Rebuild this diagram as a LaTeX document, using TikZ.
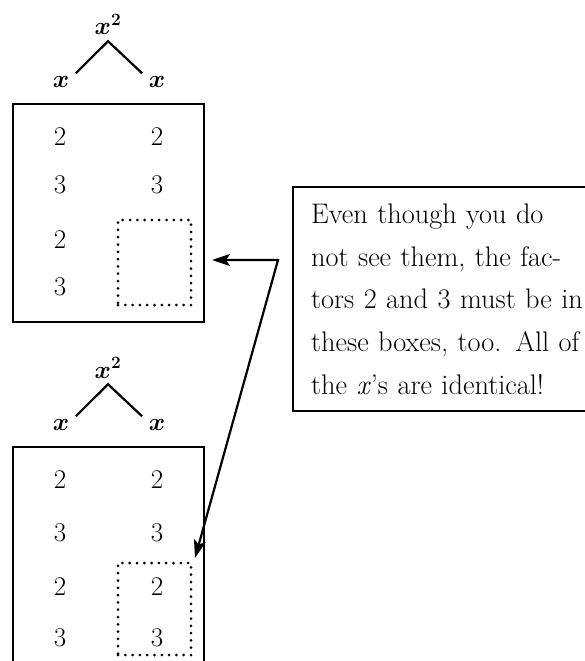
\documentclass[tikz,border=0pt]{standalone}
\usetikzlibrary{arrows.meta,positioning,calc}

\begin{document}
\begin{tikzpicture}[x=1pt, y=-1pt,
  factbox/.style={draw, line width=2.6pt, minimum width=191pt, minimum height=218pt, inner sep=0pt},
  slot/.style={draw, line width=3pt, dash pattern=on 0pt off 7.3pt, line cap=round, minimum width=73pt, inner sep=0pt},
  num/.style={font=\fontsize{27}{27}\selectfont, inner sep=0pt},
  xlab/.style={font=\fontsize{26}{26}\selectfont\boldmath, inner xsep=6.5pt, inner ysep=3pt},
  branch/.style={line width=2.2pt},
  note/.style={draw, line width=2.4pt, align=left, text width=276pt, inner xsep=18pt, minimum height=224pt, font=\fontsize{28.3}{42.6}\selectfont},
  twoarr/.style={{Stealth[length=18pt,width=12pt,inset=4pt]}-{Stealth[length=18pt,width=12pt,inset=4pt]}, line width=2.2pt}
]
\useasboundingbox (0,0) rectangle (584,661);

% upper factor tree
\node[xlab, anchor=base, inner sep=6pt] (uproot) at (108,35) {$x^2$};
\node[xlab] (upleft) at (61,82) {$x$};
\node[xlab] (upright) at (157,82) {$x$};
\draw[branch] (upleft.north east) -- (uproot.south) -- (upright.north west);

\node[factbox] (upbox) at (108.5,213) {};
\foreach \y/\d [count=\i] in {137/2,185/3,240/2,287/3}
  \node[num] (upl\i) at (60,\y) {\d};
\foreach \y/\d [count=\i] in {137/2,185/3}
  \node[num] (upr\i) at (157,\y) {\d};
\node[slot, minimum height=85pt] (upslot) at (154.5,262.5) {};

% lower factor tree
\node[xlab, anchor=base, inner sep=6pt] (lowroot) at (108,378) {$x^2$};
\node[xlab] (lowleft) at (61,425) {$x$};
\node[xlab] (lowright) at (157,425) {$x$};
\draw[branch] (lowleft.north east) -- (lowroot.south) -- (lowright.north west);

\node[factbox] (lowbox) at (108.5,556) {};
\foreach \y/\d [count=\i] in {480/2,533/3,587/2,638/3}
  \node[num] (lowl\i) at (60,\y) {\d};
\foreach \y/\d [count=\i] in {480/2,533/3,587/2,638/3}
  \node[num] (lowr\i) at (157,\y) {\d};
\node[slot, minimum height=92pt] (lowslot) at (154.5,609) {};

% explanation
\node[note, anchor=north west] (note) at (292,186) {Even though you do\\
not see them, the fac-\\
tors 2 and 3 must be in\\
these boxes, too. All of\\
the \textit{x}’s are identical!};

\coordinate (uptip) at (212,260);
\coordinate (elbow) at (278,260);
\coordinate (lowtip) at (195,558);
\draw[twoarr] (uptip) -- (elbow) -- (lowtip);

\end{tikzpicture}
\end{document}
